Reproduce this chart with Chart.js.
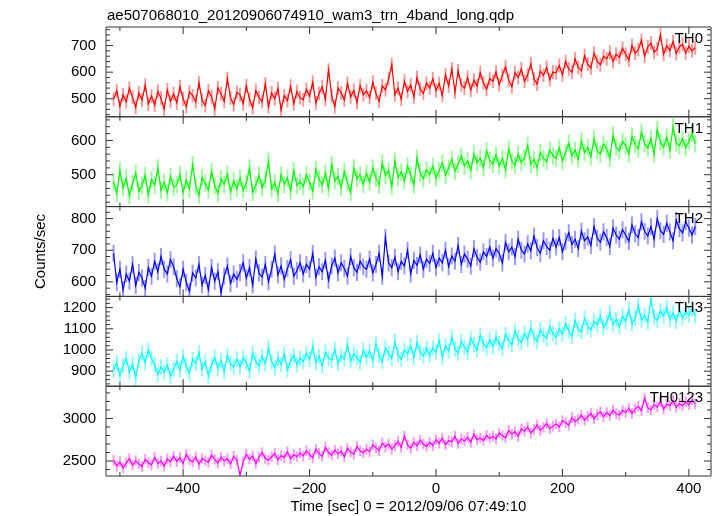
<!DOCTYPE html>
<html>
<head>
<meta charset="utf-8">
<script src="https://cdn.jsdelivr.net/npm/chart.js@4.4.1/dist/chart.umd.min.js"></script>
<style>
  html, body { margin: 0; padding: 0; background: #fff; }
</style>
</head>
<body>
<canvas id="lc" width="717" height="516"></canvas>
<script>
const plotTitle = 'ae507068010_20120906074910_wam3_trn_4band_long.qdp';
const xLabel = 'Time [sec] 0 = 2012/09/06 07:49:10';
const yLabel = 'Counts/sec';

// light curve bins: 5 s wide, first bin at -510 s
const binStart = -510;
const binWidth = 5;

const panelNames = ['TH0', 'TH1', 'TH2', 'TH3', 'TH0123'];
const panelColors = ['#ff0000', '#00ff00', '#0000ff', '#00ffff', '#ff00ff'];
const errColors = ['rgba(255,0,0,0.4)', 'rgba(0,255,0,0.4)', 'rgba(0,0,255,0.4)', 'rgba(0,255,255,0.45)', 'rgba(255,0,255,0.4)'];
// typical 1-sigma error per bin
const yErrors = [26, 25, 27, 36, 62];
const yMins = [432, 407, 554, 829, 2324];
const yMaxs = [770, 669, 838, 1253, 3379];
const yTickLabels = [[500, 600, 700], [500, 600], [600, 700, 800], [900, 1000, 1100, 1200], [2500, 3000]];
const yMinorSteps = [20, 20, 20, 20, 100];
const xTicks = [-400, -200, 0, 200, 400];
const xMinorTicks = [-500, -300, -100, 100, 300];
const xMin = -522;
const xMax = 435;

const th0 = [
  498, 530, 472, 515, 489, 540, 505, 468, 522, 495, 551, 480, 510, 476, 528, 502, 461, 533, 490, 518,
  485, 545, 500, 470, 526, 512, 488, 560, 495, 474, 530, 508, 462, 541, 519, 490, 575, 503, 478, 524,
  515, 482, 548, 497, 466, 531, 505, 489, 556, 470, 522, 500, 538, 458, 512, 493, 547, 481, 527, 504,
  496, 535, 510, 562, 484, 520, 545, 498, 608, 512, 470, 540, 522, 495, 558, 507, 531, 486, 549, 515,
  530, 505, 562, 520, 490, 548, 533, 575, 628, 515, 540, 498, 566, 528, 552, 507, 580, 536, 520, 559,
  540, 575, 530, 558, 512, 590, 548, 612, 525, 605, 552, 540, 580, 532, 570, 548, 598, 560, 535, 575,
  566, 600, 552, 588, 620, 570, 545, 598, 580, 612, 565, 590, 632, 575, 555, 604, 588, 618, 572, 600,
  598, 625, 590, 640, 612, 600, 650, 618, 605, 662, 630, 615, 672, 640, 628, 660, 650, 675, 640, 668,
  655, 690, 668, 645, 700, 672, 685, 720, 660, 695, 710, 675, 688, 740, 668, 700, 682, 715, 670, 695,
  705, 672, 698, 680, 692
];
const th1 = [
  480, 445, 512, 462, 490, 438, 475, 505, 452, 468, 498, 441, 486, 470, 520, 455, 478, 447, 495, 463,
  472, 500, 448, 485, 458, 530, 466, 440, 492, 475, 455, 510, 468, 445, 488, 472, 502, 450, 482, 460,
  490, 455, 475, 520, 448, 470, 498, 462, 485, 540, 458, 476, 445, 500, 472, 490, 452, 512, 468, 480,
  465, 500, 478, 452, 515, 488, 470, 505, 460, 530, 482, 495, 462, 510, 476, 448, 520, 488, 500, 472,
  505, 478, 520, 490, 470, 535, 498, 512, 465, 540, 492, 508, 482, 525, 500, 470, 548, 505, 488, 515,
  500, 525, 490, 512, 535, 498, 520, 545, 510, 530, 555, 525, 540, 512, 560, 535, 548, 520, 570, 542,
  530, 558, 525, 548, 515, 575, 540, 528, 560, 535, 550, 585, 530, 545, 520, 565, 548, 538, 572, 555,
  548, 578, 540, 565, 592, 555, 572, 545, 598, 565, 580, 552, 605, 570, 560, 590, 575, 548, 615, 580,
  570, 598, 585, 560, 612, 588, 575, 625, 590, 578, 605, 560, 632, 595, 580, 610, 572, 640, 592, 585,
  605, 578, 598, 620, 590
];
const th2 = [
  690, 598, 640, 575, 625, 602, 655, 588, 630, 612, 580, 645, 618, 665, 632, 680, 640, 625, 670, 648,
  610, 585, 640, 598, 570, 628, 612, 655, 590, 620, 575, 645, 602, 632, 565, 618, 650, 595, 625, 608,
  630, 660, 612, 645, 590, 672, 628, 615, 655, 600, 640, 688, 622, 650, 608, 642, 670, 618, 635, 660,
  625, 655, 640, 690, 615, 648, 632, 668, 605, 650, 675, 628, 660, 642, 618, 680, 645, 630, 665, 648,
  640, 672, 628, 655, 690, 618, 740, 660, 645, 678, 632, 665, 650, 700, 625, 668, 652, 685, 640, 672,
  658, 690, 645, 675, 660, 700, 648, 682, 665, 715, 655, 688, 672, 650, 705, 678, 662, 695, 680, 710,
  675, 705, 690, 660, 725, 695, 710, 680, 735, 700, 688, 720, 698, 745, 708, 690, 730, 712, 700, 738,
  710, 740, 695, 728, 755, 718, 735, 705, 760, 730, 742, 715, 775, 738, 725, 758, 740, 712, 770, 748,
  735, 765, 748, 728, 780, 752, 740, 790, 760, 745, 775, 735, 800, 762, 750, 785, 758, 730, 795, 768,
  755, 790, 770, 748, 775
];
const th3 = [
  905, 940, 880, 925, 962, 895, 935, 870, 950, 985, 940, 1000, 960, 930, 885, 920, 895, 930, 875, 910,
  945, 905, 970, 925, 890, 955, 935, 988, 910, 945, 875, 930, 965, 912, 950, 898, 975, 935, 920, 958,
  920, 965, 940, 900, 985, 948, 925, 970, 935, 1010, 945, 915, 960, 932, 980, 905, 950, 975, 930, 962,
  945, 985, 955, 1015, 940, 970, 925, 990, 962, 950, 1005, 935, 975, 958, 1025, 948, 982, 965, 940, 1000,
  965, 995, 950, 1030, 975, 945, 1010, 985, 960, 1040, 978, 955, 1000, 982, 1020, 965, 1035, 990, 972, 1008,
  975, 1010, 990, 1045, 965, 1020, 995, 1060, 1005, 985, 1040, 1012, 990, 1055, 1025, 1000, 1070, 1030, 1010, 1048,
  1015, 1060, 1030, 1005, 1075, 1045, 1025, 1090, 1055, 1035, 1080, 1050, 1105, 1062, 1040, 1095, 1070, 1055, 1110, 1078,
  1060, 1100, 1075, 1125, 1090, 1065, 1140, 1100, 1085, 1150, 1110, 1095, 1135, 1118, 1160, 1105, 1130, 1175, 1120, 1145,
  1110, 1160, 1135, 1190, 1125, 1150, 1210, 1140, 1165, 1130, 1240, 1155, 1140, 1185, 1160, 1200, 1145, 1175, 1135, 1190,
  1150, 1180, 1165, 1195, 1160
];
const th0123 = [
  2510, 2440, 2490, 2420, 2475, 2530, 2450, 2505, 2465, 2435, 2520, 2480, 2455, 2545, 2470, 2500, 2440, 2525, 2490, 2560,
  2495, 2540, 2470, 2580, 2515, 2490, 2550, 2460, 2530, 2505, 2485, 2570, 2520, 2475, 2545, 2500, 2530, 2465, 2555, 2510,
  2330, 2490, 2580, 2520, 2560, 2470, 2545, 2600, 2530, 2510, 2550, 2590, 2515, 2565, 2540, 2610, 2525, 2575, 2550, 2595,
  2560, 2620, 2575, 2540, 2640, 2590, 2555, 2660, 2600, 2570, 2630, 2585, 2615, 2550, 2650, 2605, 2580, 2670, 2620, 2595,
  2640, 2610, 2690, 2655, 2620, 2710, 2665, 2700, 2640, 2680, 2730, 2660, 2795, 2690, 2650, 2720, 2680, 2745, 2700, 2670,
  2720, 2680, 2750, 2710, 2770, 2690, 2740, 2725, 2790, 2705, 2760, 2735, 2780, 2720, 2815, 2750, 2770, 2740, 2800, 2765,
  2790, 2760, 2830, 2800, 2770, 2860, 2815, 2845, 2790, 2880, 2850, 2900, 2830, 2870, 2925, 2860, 2895, 2940, 2880, 2910,
  2935, 2900, 2975, 2950, 2920, 3010, 2965, 2990, 3040, 2980, 3020, 3060, 2995, 3045, 3080, 3020, 3070, 3035, 3100, 3055,
  3040, 3095, 3070, 3120, 3060, 3110, 3145, 3090, 3240, 3125, 3100, 3160, 3135, 3200, 3110, 3170, 3150, 3210, 3130, 3175,
  3150, 3195, 3160, 3220, 3170
];
const series = [th0, th1, th2, th3, th0123];

const FONT = '"Liberation Sans", Arial, Helvetica, sans-serif';

const datasets = series.map((vals, p) => ({
  label: panelNames[p],
  data: vals.map((v, i) => ({ x: binStart + i * binWidth, y: v })),
  yAxisID: 'y' + p,
  borderColor: panelColors[p],
  borderWidth: 1.2,
  pointRadius: 0,
  tension: 0,
  fill: false
}));

const scales = {
  x: {
    type: 'linear',
    position: 'bottom',
    min: xMin,
    max: xMax,
    grid: { display: false, drawTicks: false },
    border: { display: false },
    afterBuildTicks: (s) => { s.ticks = xTicks.map(v => ({ value: v })); },
    afterFit: (s) => { s.height = 40; },
    ticks: {
      padding: 4,
      color: '#000',
      autoSkip: false,
      font: { family: FONT, size: 15 },
      maxRotation: 0,
      callback: (v) => String(v).replace('-', '\u2212')
    }
  }
};
panelNames.forEach((name, p) => {
  scales['y' + p] = {
    type: 'linear',
    position: 'left',
    stack: 'panels',
    stackWeight: 1,
    weight: 10 - p,
    min: yMins[p],
    max: yMaxs[p],
    grid: { display: false, drawTicks: false },
    border: { display: false },
    afterBuildTicks: (s) => { s.ticks = yTickLabels[p].map(v => ({ value: v })); },
    afterFit: (s) => { s.width = 106; },
    ticks: {
      padding: 10,
      color: '#000',
      autoSkip: false,
      font: { family: FONT, size: 15 },
      callback: (v) => String(v)
    }
  };
});

// light vertical error bars under each light curve
const errorBars = {
  id: 'errorBars',
  beforeDatasetsDraw(chart) {
    const ctx = chart.ctx;
    const xs = chart.scales.x;
    series.forEach((vals, p) => {
      const ys = chart.scales['y' + p];
      ctx.save();
      ctx.beginPath();
      ctx.rect(xs.left, ys.top, xs.right - xs.left, ys.bottom - ys.top);
      ctx.clip();
      ctx.strokeStyle = errColors[p];
      ctx.lineWidth = 2;
      ctx.beginPath();
      vals.forEach((v, i) => {
        const px = xs.getPixelForValue(binStart + i * binWidth);
        ctx.moveTo(px, ys.getPixelForValue(v - yErrors[p]));
        ctx.lineTo(px, ys.getPixelForValue(v + yErrors[p]));
      });
      ctx.stroke();
      ctx.restore();
    });
  }
};

const qdpFrame = {
  id: 'qdpFrame',
  afterDraw(chart) {
    const ctx = chart.ctx;
    const xs = chart.scales.x;
    ctx.save();
    ctx.strokeStyle = '#333';
    ctx.lineWidth = 1;
    panelNames.forEach((name, p) => {
      const ys = chart.scales['y' + p];
      const top = ys.top, bottom = ys.bottom, left = xs.left, right = xs.right;
      ctx.beginPath();
      ctx.rect(left, top, right - left, bottom - top);
      xTicks.forEach(v => {
        const px = xs.getPixelForValue(v);
        ctx.moveTo(px, top); ctx.lineTo(px, top + 7);
        ctx.moveTo(px, bottom); ctx.lineTo(px, bottom - 7);
      });
      xMinorTicks.forEach(v => {
        const px = xs.getPixelForValue(v);
        ctx.moveTo(px, top); ctx.lineTo(px, top + 4);
        ctx.moveTo(px, bottom); ctx.lineTo(px, bottom - 4);
      });
      const step = yMinorSteps[p];
      for (let v = Math.ceil(yMins[p] / step) * step; v <= yMaxs[p]; v += step) {
        const py = ys.getPixelForValue(v);
        const len = yTickLabels[p].includes(v) ? 7 : 4;
        ctx.moveTo(left, py); ctx.lineTo(left + len, py);
        ctx.moveTo(right, py); ctx.lineTo(right - len, py);
      }
      ctx.stroke();
      ctx.fillStyle = '#000';
      ctx.font = '15px ' + FONT;
      ctx.textAlign = 'right';
      ctx.textBaseline = 'alphabetic';
      ctx.fillText(name, right - 8, top + 16);
    });
    ctx.fillStyle = '#000';
    ctx.font = '15px ' + FONT;
    ctx.textAlign = 'left';
    ctx.fillText(plotTitle, xs.left + 1, 20);
    ctx.textAlign = 'center';
    ctx.fillText(xLabel, (xs.left + xs.right) / 2, 511);
    ctx.translate(45, (chart.chartArea.top + chart.chartArea.bottom) / 2);
    ctx.rotate(-Math.PI / 2);
    ctx.fillText(yLabel, 0, 0);
    ctx.restore();
  }
};

new Chart(document.getElementById('lc').getContext('2d'), {
  type: 'line',
  data: { datasets: datasets },
  options: {
    responsive: false,
    animation: false,
    devicePixelRatio: 1,
    layout: { padding: { left: 0, right: 6, top: 27, bottom: 0 } },
    plugins: { legend: { display: false }, tooltip: { enabled: false }, title: { display: false } },
    scales: scales
  },
  plugins: [errorBars, qdpFrame]
});
</script>
</body>
</html>
